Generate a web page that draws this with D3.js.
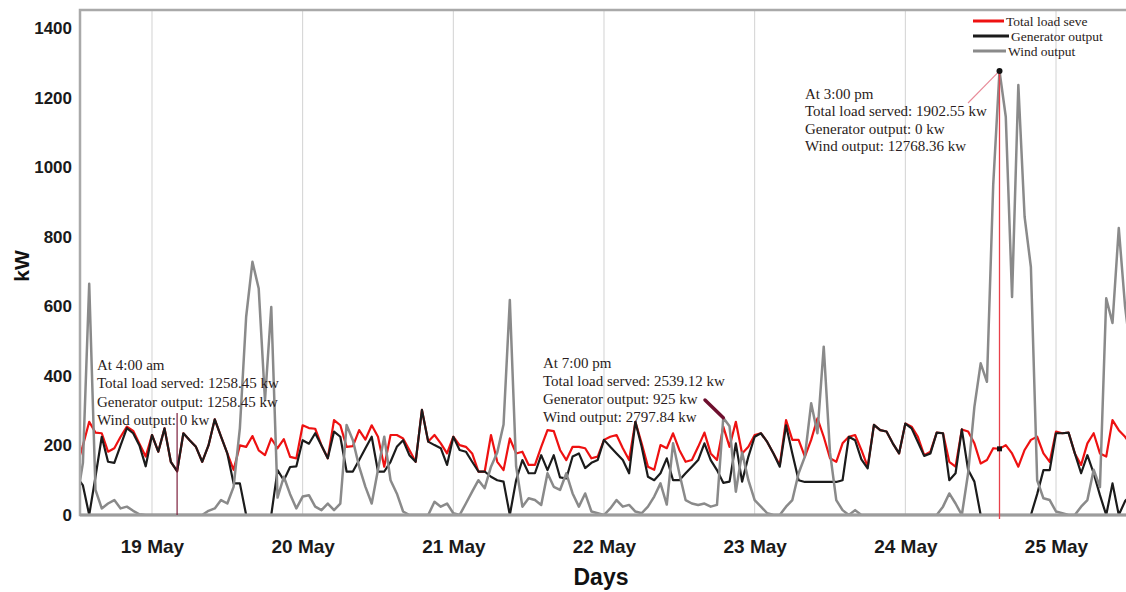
<!DOCTYPE html>
<html>
<head>
<meta charset="utf-8">
<script src="https://cdn.jsdelivr.net/npm/d3@7"></script>
<style>
  body { margin: 0; background: #fff; }
  svg { display: block; }
</style>
</head>
<body>
<svg id="chart" width="1126" height="592"></svg>
<script>
// Hourly readings, first sample at 18 May 12:00, last at 25 May 12:00
const firstHour = new Date(2019, 4, 18, 12);

const loadServed = [
  // 18 May 12:00-23:00
  140,200,268,237,235,182,192,225,254,242,205,168,
  // 19 May
  230,182,249,153,125.845,235,215,196,153,200,275,225,177,130,200,196,227,186,172,220,192,218,167,163,
  // 20 May
  258,250,248,200,163,273,258,196,198,244,217,258,225,139,230,230,220,187,153,302,211,230,206,177,
  // 21 May
  225,201,196,177,125,125,230,153,129,220,177,182,144,144,196,244,241,187,158,196,196,192,163,168,
  // 22 May
  216,225,230,192,158,268,206,139,130,201,192,235,187,153,158,196,237,177,158,253.912,196,268,177,196,
  // 23 May
  230,235,210,177,144,273,216,216,168,216,278,225,163,153,206,225,230,187,139,259,244,240,206,177,
  // 24 May
  263,254,225,172,182,237,235,153,139,246,240,206,148,158,192,190.255,201,177,139,187,216,225,177,153,
  // 25 May 00:00-12:00
  240,235,237,177,144,206,235,177,168,273,244,225,200
];

const generatorOutput = [
  110,85,0,110,225,153,150,200,250,235,200,140,
  230,182,249,153,125.845,235,215,196,153,200,275,225,177,91,91,0,0,0,0,0,129,100,138,140,
  215,205,235,200,163,240,225,125,125,158,192,225,125,125,153,196,215,172,153,302,211,201,192,144,
  225,187,182,153,125,125,110,100,96,0,100,158,120,120,172,129,172,108,105,168,177,135,150,158,
  216,196,177,158,120,268,196,110,100,120,163,100,100,120,139,158,206,158,129,92.5,96,206,96,168,
  225,235,210,177,139,258,177,100,95,95,95,95,95,95,100,225,215,160,134,259,244,240,206,177,
  263,249,210,170,177,237,235,100,120,246,130,96,0,0,0,0,0,0,0,0,0,60,129,129,
  235,235,237,177,120,172,120,57,0,91,0,40,60
];

const windOutput = [
  40,150,665,72,19,33,43,19,24,12,2,0,
  0,0,0,0,0,0,0,0,0,12,19,43,33,81,250,570,728,651,330,598,50,110,60,19,
  53,57,24,14,33,14,33,259,215,139,81,33,130,225,100,62,10,0,0,0,0,38,24,33,
  5,0,33,67,100,77,139,180,260,618,140,24,48,43,29,120,81,72,120,62,24,62,10,5,
  0,19,43,24,29,10,5,24,53,91,30,206,120,43,33,29,33,24,29,279.784,255,67,180,100,
  43,24,5,0,0,24,43,120,168,321,235,484,180,43,14,0,14,0,0,0,0,0,0,0,
  0,0,0,0,0,0,24,62,33,0,120,311,436,383,950,1276.836,1145,627,1236,857,713,100,48,43,
  10,5,0,0,24,43,130,80,623,552,825,600,450
];

const seriesNames = ["Total load seve", "Generator output", "Wind output"];
const dayTicks = [19, 20, 21, 22, 23, 24, 25].map(d => new Date(2019, 4, d));
const yTicks = [0, 200, 400, 600, 800, 1000, 1200, 1400];

// Hover read-outs; the tooltip reports ten times the plotted figure
const readoutTimes = [new Date(2019, 4, 19, 4), new Date(2019, 4, 22, 19), new Date(2019, 4, 24, 15)];
const readoutHeads = ["At 4:00 am", "At 7:00 pm", "At 3:00 pm"];
const readoutFactor = 10;

const times = loadServed.map((_, i) => d3.timeHour.offset(firstHour, i));

const svg = d3.select("#chart");
const plot = { left: 80, right: 1126, top: 10, bottom: 515 };

const x = d3.scaleTime()
  .domain([new Date(2019, 4, 18, 12, 32), new Date(2019, 4, 25, 11, 9)])
  .range([plot.left, plot.right]);
const y = d3.scaleLinear().domain([0, 1452]).range([plot.bottom, plot.top]);

// vertical day gridlines
svg.append("g").selectAll("line").data(dayTicks).join("line")
  .attr("x1", d => x(d)).attr("x2", d => x(d))
  .attr("y1", plot.top).attr("y2", plot.bottom)
  .attr("stroke", "#d2d2d2").attr("stroke-width", 1);

svg.append("defs").append("clipPath").attr("id", "plotClip")
  .append("rect").attr("x", plot.left).attr("y", plot.top)
  .attr("width", plot.right - plot.left).attr("height", plot.bottom - plot.top);

const lineGen = vals => d3.line()
  .x((d, i) => x(times[i]))
  .y(d => y(d))(vals);

const lines = svg.append("g").attr("clip-path", "url(#plotClip)");
const seriesStyle = [
  { vals: loadServed, color: "#ee1111", width: 2.2 },
  { vals: generatorOutput, color: "#1b1b1b", width: 2.2 },
  { vals: windOutput, color: "#8a8a8a", width: 2.5 }
];
seriesStyle.forEach(s => {
  lines.append("path").attr("d", lineGen(s.vals))
    .attr("fill", "none").attr("stroke", s.color)
    .attr("stroke-width", s.width).attr("stroke-linejoin", "round");
});

// frame
svg.append("rect")
  .attr("x", plot.left).attr("y", plot.top)
  .attr("width", plot.right - plot.left + 20).attr("height", plot.bottom - plot.top)
  .attr("fill", "none").attr("stroke", "#a9a9a9").attr("stroke-width", 2.5);
svg.append("line")
  .attr("x1", plot.left).attr("x2", plot.right)
  .attr("y1", plot.bottom).attr("y2", plot.bottom)
  .attr("stroke", "#9c9c9c").attr("stroke-width", 3);

// axes
const yAxis = svg.append("g").attr("transform", `translate(${plot.left},0)`)
  .call(d3.axisLeft(y).tickValues(yTicks).tickFormat(d3.format("d")).tickSize(0).tickPadding(8));
yAxis.select(".domain").remove();
yAxis.selectAll("text")
  .attr("font-family", "'Liberation Sans', Arial, sans-serif")
  .attr("font-size", 17).attr("font-weight", "bold").attr("fill", "#1a1a1a");

const xAxis = svg.append("g").attr("transform", `translate(0,${plot.bottom})`)
  .call(d3.axisBottom(x).tickValues(dayTicks).tickFormat(d3.timeFormat("%-d %b"))
    .tickSize(0).tickPadding(25));
xAxis.select(".domain").remove();
xAxis.selectAll("text")
  .attr("font-family", "'Liberation Sans', Arial, sans-serif")
  .attr("font-size", 19).attr("font-weight", "bold").attr("fill", "#1a1a1a");

svg.append("text").attr("x", 601).attr("y", 585).attr("text-anchor", "middle")
  .attr("font-family", "'Liberation Sans', Arial, sans-serif")
  .attr("font-size", 23).attr("font-weight", "bold").attr("fill", "#111")
  .text("Days");
svg.append("text").attr("transform", "translate(29,266) rotate(-90)")
  .attr("text-anchor", "middle")
  .attr("font-family", "'Liberation Sans', Arial, sans-serif")
  .attr("font-size", 21).attr("font-weight", "bold").attr("fill", "#111")
  .text("kW");

// legend
const legend = svg.append("g");
const legendRows = [
  { y: 21, x2: 1004, tx: 1006 },
  { y: 36, x2: 1009, tx: 1011 },
  { y: 51, x2: 1006, tx: 1008 }
];
seriesNames.forEach((name, i) => {
  const r = legendRows[i];
  legend.append("line").attr("x1", 973).attr("x2", r.x2)
    .attr("y1", r.y).attr("y2", r.y)
    .attr("stroke", seriesStyle[i].color).attr("stroke-width", 3);
  legend.append("text").attr("x", r.tx).attr("y", r.y + 4.5)
    .attr("font-family", "'Liberation Serif', 'Times New Roman', serif")
    .attr("font-size", 13.5).attr("fill", "#2a1c20").text(name);
});

// read-outs
const fmtKw = v => {
  const s = (Math.round(v * readoutFactor * 100) / 100).toFixed(2);
  return s.endsWith(".00") ? s.slice(0, -3) : s;
};
const idxOf = t => Math.round((t - firstHour) / 3600000);
const readouts = readoutTimes.map((t, k) => {
  const i = idxOf(t);
  return {
    t, i,
    load: loadServed[i], gen: generatorOutput[i], wind: windOutput[i],
    lines: [
      readoutHeads[k],
      `Total load served: ${fmtKw(loadServed[i])} kw`,
      `Generator output: ${fmtKw(generatorOutput[i])} kw`,
      `Wind output: ${fmtKw(windOutput[i])} kw`
    ]
  };
});

const ro = svg.append("g");
// 4:00 am marker line
ro.append("line")
  .attr("x1", x(readouts[0].t)).attr("x2", x(readouts[0].t))
  .attr("y1", 413).attr("y2", plot.bottom)
  .attr("stroke", "#7d1f3c").attr("stroke-width", 1.2);
// 7:00 pm pointer
ro.append("line")
  .attr("x1", 705).attr("y1", 400)
  .attr("x2", x(readouts[1].t)).attr("y2", y(readouts[1].wind))
  .attr("stroke", "#6e0f2e").attr("stroke-width", 3.5).attr("stroke-linecap", "round");
// 3:00 pm crosshair, leader and markers
const px = x(readouts[2].t), py = y(readouts[2].wind);
ro.append("line").attr("x1", px).attr("x2", px).attr("y1", py).attr("y2", plot.bottom + 4)
  .attr("stroke", "#e8404a").attr("stroke-width", 1.3);
ro.append("line").attr("x1", 968).attr("y1", 103).attr("x2", px).attr("y2", py)
  .attr("stroke", "#e88a98").attr("stroke-width", 1.1);
ro.append("circle").attr("cx", px).attr("cy", py).attr("r", 3).attr("fill", "#111");
ro.append("rect").attr("x", px - 2.5).attr("y", y(readouts[2].load) - 2.5)
  .attr("width", 5).attr("height", 5).attr("fill", "#111");

const textPos = [
  { x: 97, y: 370, dy: 18.3 },
  { x: 543, y: 368, dy: 18 },
  { x: 805, y: 99, dy: 17.4 }
];
readouts.forEach((r, k) => {
  const p = textPos[k];
  ro.append("g").selectAll("text").data(r.lines).join("text")
    .attr("x", p.x).attr("y", (d, j) => p.y + j * p.dy)
    .attr("font-family", "'Liberation Serif', 'Times New Roman', serif")
    .attr("font-size", 15).attr("fill", "#2a1c20")
    .text(d => d);
});
</script>
</body>
</html>
